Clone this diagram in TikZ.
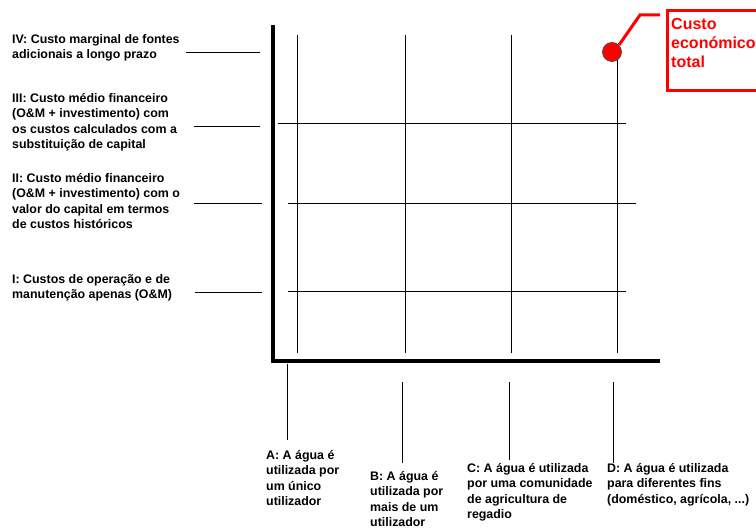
\documentclass[tikz,border=0pt]{standalone}
\usepackage{fontspec}
\setmainfont{Liberation Sans}
\usetikzlibrary{positioning}
\tikzstyle{nivel} = [anchor=north west, 
align=left, 
inner sep=0pt,
font=\bfseries\fontsize{12.4}{15.5}\selectfont]
\tikzstyle{uso} = [nivel]
\tikzstyle{eixo} = [line width=3.5pt, draw=black]
\tikzstyle{grelha} = [line width=0.9pt, draw=black]
\tikzstyle{traco} = [line width=0.9pt, draw=black]
\tikzstyle{destaque} = [line width=3pt, draw=red]

\begin{document}
\begin{tikzpicture}[x=1pt, y=-1pt]
        \clip (0,0) rectangle (756,529);

        % Niveis de custo
        \node (nivelIV) [nivel] at (12,34) {IV: Custo marginal de fontes\\adicionais a longo prazo};
        \node (nivelIII) [nivel] at (12,93) {III: Custo médio financeiro\\(O\&M + investimento) com\\os custos calculados com a\\substituição de capital};
        \node (nivelII) [nivel] at (12,173) {II: Custo médio financeiro\\(O\&M + investimento) com o\\valor do capital em termos\\de custos históricos};
        \node (nivelI) [nivel] at (12,274) {I: Custos de operação e de\\manutenção apenas (O\&M)};

        % Usos da agua
        \node (usoA) [uso] at (266,450) {A: A água é\\utilizada por\\um único\\utilizador};
        \node (usoB) [uso] at (370,471) {B: A água é\\utilizada por\\mais de um\\utilizador};
        \node (usoC) [uso] at (467,463) {C: A água é utilizada\\por uma comunidade\\de agricultura de\\regadio};
        \node (usoD) [uso] at (607,463) {D: A água é utilizada\\para diferentes fins\\(doméstico, agrícola, ...)};

        % Eixos
        \coordinate (topo) at (273,25);
        \coordinate (origem) at (273,361);
        \coordinate (fim) at (660,361);
        \draw [eixo] (topo) -- (origem) -- (fim);

        % Grelha
        \foreach \x in {297,405,511}
            \draw [grelha] (\x,35) -- (\x,353);
        \draw [grelha] (278,123) -- (626,123);
        \draw [grelha] (288,203) -- (636,203);
        \draw [grelha] (288,291) -- (626,291);

        % Tracos dos niveis
        \draw [traco] (186,52) -- (260,52);
        \draw [traco] (194,126) -- (260,126);
        \draw [traco] (194,203) -- (262,203);
        \draw [traco] (195,292) -- (262,292);

        % Tracos dos usos
        \draw [traco] (287,364) -- (287,440);
        \draw [traco] (402,382) -- (402,463);
        \draw [traco] (509,382) -- (509,460);
        \draw [traco] (613,382) -- (613,463);

        % Custo economico total
        \draw [grelha] (617,58) -- (617,353);
        \node (custo) [circle, fill=red, draw=black!70, line width=0.8pt, minimum size=19pt, inner sep=0pt] at (612,52) {};
        \node (caixa) [draw=red, line width=3pt, anchor=north west, minimum width=120pt, minimum height=80pt] at (666,9) {};
        \node (rotulo) [anchor=north west, align=left, inner sep=0pt, text=red, font=\bfseries\fontsize{16}{19}\selectfont] at (671,18) {Custo\\económico\\total};
        \coordinate (dobra) at (640,15);
        \coordinate (ponta) at (660,15);
        \draw [destaque] (custo.north east) -- (dobra) -- (ponta);

    \end{tikzpicture}
\end{document}
